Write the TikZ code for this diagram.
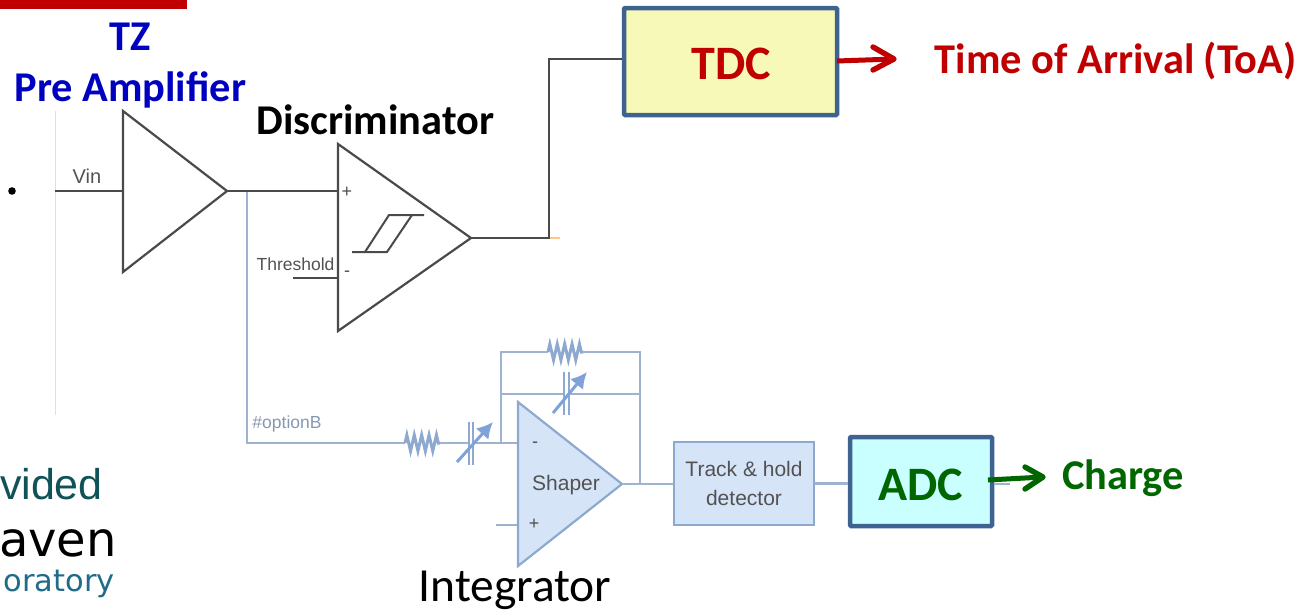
\documentclass[tikz,border=0pt]{standalone}
\usepackage{fontspec}
\setmainfont{Carlito}
\newfontfamily\arial{Liberation Sans}
\newfontfamily\logo{DejaVu Sans}
\usetikzlibrary{decorations.pathmorphing,arrows.meta}
\definecolor{ltblue}{HTML}{9FB2CF}
\definecolor{triblue}{HTML}{8EA9CF}
\definecolor{triFill}{HTML}{D6E4F8}
\definecolor{arrowblue}{HTML}{7FA3D8}
\definecolor{boxedge}{HTML}{3F6390}
\definecolor{darkline}{HTML}{4A4A4A}
\definecolor{blueT}{HTML}{0000C0}
\definecolor{redT}{HTML}{C00000}
\definecolor{greenT}{HTML}{006600}
\definecolor{logoA}{HTML}{0F5257}
\definecolor{logoB}{HTML}{1F6B8A}
\definecolor{tdcFill}{HTML}{F6F9B8}
\definecolor{adcFill}{HTML}{C9FFFF}
\tikzset{
  x=1pt,y=-1pt,
  dk/.style={draw=darkline,line width=2.4pt},
  lt/.style={draw=ltblue,line width=2.8pt},
  tri/.style={draw=darkline,line width=2.2pt,line join=miter},
  shapertri/.style={draw=triblue,fill=triFill,line width=2.2pt},
  resistor/.style={lt,draw=triblue,line width=3pt,decorate,decoration={zigzag,segment length=7.4pt,amplitude=8pt}},
  plate/.style={draw=triblue,line width=2.8pt},
  trimarrow/.style={draw=arrowblue,line width=3pt,-{Latex[length=16pt,width=17pt]}},
  mainbox/.style={draw=boxedge,line width=4.5pt,rounded corners=1pt,inner sep=0pt},
  shaft/.style={line width=5pt},
  barb/.style={line width=5.4pt,line cap=round,line join=round},
  lab/.style={inner sep=0pt,font=\arial\fontsize{19}{19}\selectfont,text=black!68},
  sgn/.style={inner sep=0pt,font=\arial\fontsize{18}{18}\selectfont,text=black!70},
  titletext/.style={inner sep=0pt,font=\bfseries\fontsize{42.4}{42.4}\selectfont},
  boxtext/.style={inner sep=0pt,font=\bfseries\fontsize{48}{48}\selectfont}
}
\begin{document}
\begin{tikzpicture}
\useasboundingbox (0,0) rectangle (1305,613);
\clip (0,0) rectangle (1305,613);
\fill[redT] (0,0) rectangle (187,9);
\node[titletext,text=blueT] (tz) at (130,37) {TZ};
\node[titletext,text=blueT] (pre) at (130.5,89.5) {Pre Amplifier};
\node[titletext,text=black] (disc) at (375.5,120) {Discriminator};
\node[inner sep=0pt,font=\fontsize{47.5}{47.5}\selectfont] (integ) at (515,590) {Integrator};
% faint edge and dot
\coordinate (edgeT) at (55,111);
\coordinate (edgeB) at (55,415);
\draw[black!12,line width=.8pt] (edgeT) -- (edgeB);
\fill[black] (12,191) circle (3.8pt);
% logo fragments
\node[inner sep=0pt,anchor=east,text=logoA,font=\arial\fontsize{43}{43}\selectfont] (vided) at (103,484) {vided};
\node[inner sep=0pt,anchor=east,font=\logo\fontsize{48}{48}\selectfont] (aven) at (117,543) {aven};
\node[inner sep=0pt,anchor=east,text=logoB,font=\logo\fontsize{30.5}{30.5}\selectfont] (orat) at (115,584) {oratory};
% named points
\coordinate (vin) at (55,191);
\coordinate (paIn) at (123,191);
\coordinate (paOut) at (227,191);
\coordinate (tap) at (247,191);
\coordinate (dPlus) at (338,191);
\coordinate (dMinus) at (338,278);
\coordinate (thr) at (293,278);
\coordinate (dOut) at (471,238);
\coordinate (riser) at (549,238);
\coordinate (stub) at (560,238);
\coordinate (riserT) at (549,59);
\coordinate (corner) at (247,443);
\coordinate (r1a) at (405,443);
\coordinate (r1b) at (440,443);
\coordinate (c1a) at (469,443);
\coordinate (c1b) at (473,443);
\coordinate (sIn) at (518,443);
\coordinate (fb) at (501,443);
\coordinate (fbT) at (501,352);
\coordinate (fbM) at (501,394);
\coordinate (r2a) at (548,352);
\coordinate (r2b) at (583,352);
\coordinate (c2a) at (564,394);
\coordinate (c2b) at (569,394);
\coordinate (fbRT) at (640,352);
\coordinate (fbRM) at (640,394);
\coordinate (fbRB) at (640,484);
\coordinate (sOut) at (622,484);
\coordinate (sPlus) at (518,525);
\coordinate (sPlusL) at (496,525);
% preamp + discriminator wires
\draw[lt] (tap) -- (corner) -- (r1a);
\draw[dk] (vin) -- (paIn);
\draw[dk] (paOut) -- (dPlus);
\draw[dk] (thr) -- (dMinus);
\draw[draw=orange!45,line width=2.3pt] (riser) -- (stub);
% triangles
\draw[tri] (123,111) -- (123,272) -- (paOut) -- cycle;
\draw[tri] (338,144) -- (338,331) -- (dOut) -- cycle;
\node[lab,font=\arial\fontsize{20}{20}\selectfont] (vinl) at (87,176) {Vin};
\node[lab,font=\arial\fontsize{17.5}{17.5}\selectfont] (thrl) at (295.5,264) {Threshold};
\node[sgn] (dp) at (347,192) {+};
\node[sgn] (dm) at (347,274) {-};
% hysteresis
\draw[darkline,line width=2pt] (352,252) -- (387,252) -- (412,215);
\draw[darkline,line width=2pt] (365,252) -- (389,215) -- (424,215);
% TDC
\node[mainbox,fill=tdcFill,minimum width=213pt,minimum height=107pt] (tdc) at (730.5,61.5) {};
\node[boxtext,text=redT] (tdcl) at (731,64) {TDC};
\draw[dk] (dOut) -- (riser) -- (riserT) -- (tdc.west |- riserT);
\coordinate (tdcA) at (837,61);
\coordinate (tdcB) at (894,59);
\draw[shaft,draw=redT] (tdcA) -- (tdcB);
\draw[barb,draw=redT] (873,47) -- (tdcB) -- (873,70);
\node[titletext,text=redT] (toa) at (1115.5,61) {Time of Arrival (ToA)};
% lower chain
\node[lab,font=\arial\fontsize{17.5}{17.5}\selectfont,text=ltblue!85!black] (opt) at (287,424) {\#optionB};
\draw[resistor] (r1a) -- (r1b);
\draw[lt] (r1b) -- (c1a);
\draw[lt] (c1b) -- (sIn);
\draw[plate] (469,422) -- (469,465);
\draw[plate] (473,422) -- (473,465);
\draw[trimarrow] (457,462) -- (493,422);
\draw[lt] (fb) -- (fbT) -- (r2a);
\draw[resistor] (r2a) -- (r2b);
\draw[lt] (r2b) -- (fbRT) -- (fbRB);
\draw[lt] (fbM) -- (c2a);
\draw[lt] (c2b) -- (fbRM);
\draw[plate] (564,372) -- (564,415);
\draw[plate] (569,372) -- (569,415);
\draw[trimarrow] (553,413) -- (587,372);
\draw[lt] (sPlusL) -- (sPlus);
\draw[shapertri] (518,402) -- (518,566) -- (sOut) -- cycle;
\node[sgn] (sm) at (535,445) {-};
\node[sgn] (sp) at (534,524) {+};
\node[lab,font=\arial\fontsize{21}{21}\selectfont] (shp) at (566,485) {Shaper};
\node[draw=triblue,fill=triFill,line width=2.6pt,minimum width=140pt,minimum height=83pt,inner sep=0pt,align=center,
      font=\arial\fontsize{21}{29}\selectfont,text=black!68] (th) at (744,483.5) {Track \& hold\\detector};
\draw[lt] (sOut) -- (th.west |- sOut);
\node[mainbox,fill=adcFill,minimum width=142pt,minimum height=89pt] (adc) at (921,481.5) {};
\node[boxtext,text=greenT] (adcl) at (921,484.5) {ADC};
\draw[lt] (th.east) -- (adc.west |- th.east);
\coordinate (adcA) at (988,480);
\coordinate (adcB) at (1043,477);
\coordinate (adcG) at (1010,484);
\draw[lt] (adc.east |- adcG) -- (adcG);
\draw[shaft,draw=greenT] (adcA) -- (adcB);
\draw[barb,draw=greenT] (1025,467) -- (adcB) -- (1025,489);
\node[titletext,text=greenT] (chg) at (1123,478) {Charge};
\end{tikzpicture}
\end{document}
